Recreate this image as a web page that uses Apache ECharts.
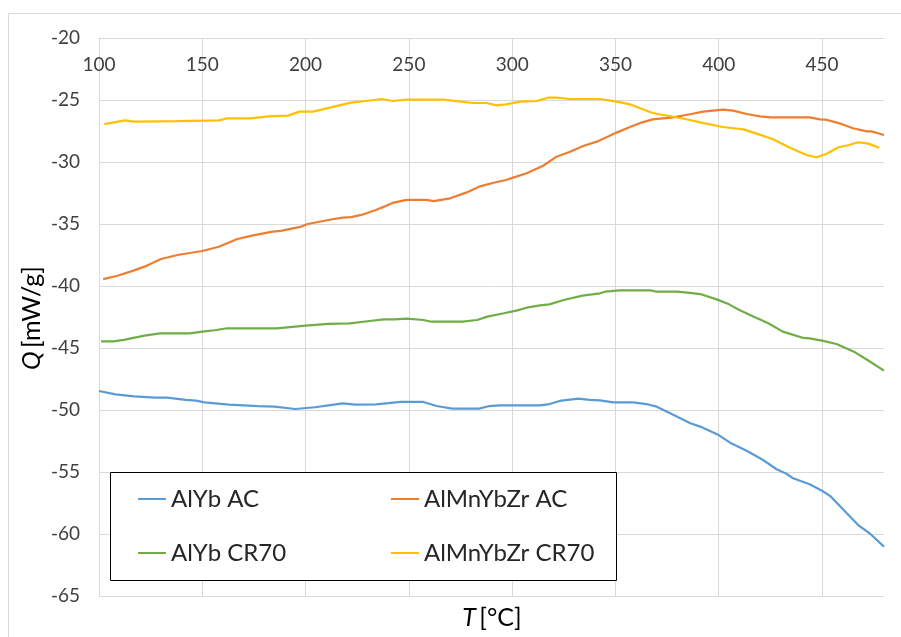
<!DOCTYPE html>
<html>
<head>
<meta charset="utf-8">
<script src="https://cdn.jsdelivr.net/npm/echarts@6/dist/echarts.min.js"></script>
<style>html,body{margin:0;padding:0;background:#fff}#c{width:901px;height:637px}</style>
</head>
<body>
<div id="c"></div>
<script>
var seriesNames = ['AlYb AC', 'AlMnYbZr AC', 'AlYb CR70', 'AlMnYbZr CR70'];
var xTicks = [100, 150, 200, 250, 300, 350, 400, 450];
var yTicks = [-65, -60, -55, -50, -45, -40, -35, -30, -25, -20];

var alybAcT = [100,108,117,127,133,142,147,151,163,177,185,195,204.5,211,218,224,234,240,246,257,263.5,271,284,289,294,313.5,318,323,332,337.6,342.5,349,358.6,365,370,377,386,391,400,406,413.5,421.5,428,433,436,444,450,454,462,468,473,480];
var alybAcQ = [-48.47,-48.74,-48.9,-49.0,-49.0,-49.19,-49.25,-49.38,-49.57,-49.68,-49.73,-49.92,-49.78,-49.62,-49.46,-49.57,-49.54,-49.45,-49.35,-49.35,-49.68,-49.89,-49.89,-49.68,-49.62,-49.62,-49.52,-49.27,-49.09,-49.19,-49.22,-49.38,-49.38,-49.52,-49.73,-50.3,-51.05,-51.34,-52.02,-52.69,-53.28,-54.03,-54.78,-55.16,-55.51,-55.99,-56.51,-56.94,-58.33,-59.35,-59.94,-61.02];

var almnAcT = [102,109,117,122,130,138,150,158,167,174,184,188,198,201,213,218,222,227,234,238,242,249,258.6,262,270,278,284,291,297,300.5,307,315,321.5,328,334.4,341,350.6,357,363,368,378,386,392.5,402,407,413.5,420,425,444,449,452,459,465,471.6,474,480];
var almnAcQ = [-39.44,-39.17,-38.74,-38.44,-37.82,-37.5,-37.18,-36.83,-36.21,-35.94,-35.62,-35.56,-35.21,-35.0,-34.62,-34.49,-34.44,-34.27,-33.87,-33.6,-33.3,-33.06,-33.06,-33.15,-32.93,-32.45,-31.99,-31.67,-31.45,-31.26,-30.91,-30.3,-29.57,-29.17,-28.71,-28.36,-27.63,-27.18,-26.8,-26.56,-26.4,-26.15,-25.94,-25.78,-25.86,-26.13,-26.32,-26.4,-26.4,-26.56,-26.59,-26.91,-27.28,-27.53,-27.53,-27.82];

var alybCrT = [101,107,112,122,129.5,144,150,156,162,186,200,211,221.5,232,238,243,249,257,261,276,283,288,296,302,307,313.5,318,325,334,342.5,345,352,367,370,380,386,391,399,405,410,417,424,431,441,444,450,457,466,472,480];
var alybCrQ = [-44.46,-44.46,-44.35,-44.0,-43.82,-43.82,-43.68,-43.57,-43.41,-43.41,-43.2,-43.06,-43.01,-42.8,-42.69,-42.69,-42.63,-42.74,-42.88,-42.88,-42.74,-42.47,-42.2,-41.99,-41.75,-41.56,-41.48,-41.13,-40.78,-40.59,-40.46,-40.35,-40.35,-40.46,-40.46,-40.56,-40.65,-41.08,-41.48,-41.94,-42.47,-43.01,-43.68,-44.19,-44.22,-44.41,-44.68,-45.35,-45.97,-46.83];

var almnCrT = [102.6,112.6,117,138,158,162,173,182,191.5,197,203.6,222,229,237,242,249,266.6,281,287.6,292.5,297,304,312,317.5,321.5,328,342.5,350.6,357,362,368,378,386,391,402,412,418,426,434.5,442.5,447.4,452,458,463,467.5,472.4,477.7];
var almnCrQ = [-26.94,-26.64,-26.75,-26.7,-26.64,-26.48,-26.48,-26.32,-26.26,-25.94,-25.94,-25.21,-25.08,-24.92,-25.08,-24.97,-24.97,-25.24,-25.24,-25.43,-25.35,-25.13,-25.08,-24.81,-24.81,-24.92,-24.92,-25.13,-25.35,-25.67,-26.05,-26.35,-26.61,-26.8,-27.18,-27.37,-27.69,-28.15,-28.85,-29.44,-29.62,-29.35,-28.81,-28.63,-28.41,-28.52,-28.85];

var colors = ['#5B9BD5', '#ED7D31', '#70AD47', '#FFC000'];

function zip(t, q) { return t.map(function (v, i) { return [v, q[i]]; }); }
var allData = [zip(alybAcT, alybAcQ), zip(almnAcT, almnAcQ), zip(alybCrT, alybCrQ), zip(almnCrT, almnCrQ)];

var FONT = 'Lato';
var chart = echarts.init(document.getElementById('c'), null, { renderer: 'canvas' });

var splitColors = xTicks.map(function () { return '#D9D9D9'; }).concat(['rgba(0,0,0,0)']);

function legendCfg(names, top) {
  return {
    data: names,
    left: 138, top: top, orient: 'horizontal',
    icon: 'rect', itemWidth: 28, itemHeight: 2, itemGap: 30,
    padding: 0, z: 30,
    textStyle: { fontFamily: FONT, fontSize: 24, color: '#262626', width: 190, lineHeight: 34 },
    selectedMode: false
  };
}

chart.setOption({
  animation: false,
  color: colors,
  grid: { left: 99, top: 38, right: 17, bottom: 41 },
  xAxis: {
    type: 'value', min: 100, max: 480, interval: 50, position: 'top',
    axisLine: { show: true, lineStyle: { color: '#D9D9D9', width: 1 } },
    axisTick: { show: false },
    axisLabel: { inside: true, margin: 17, fontFamily: FONT, fontSize: 19, color: '#404040', showMaxLabel: false },
    splitLine: { show: true, lineStyle: { color: splitColors, width: 1 } }
  },
  yAxis: {
    type: 'value', min: -65, max: -20, interval: 5,
    axisLine: { show: true, lineStyle: { color: '#D9D9D9', width: 1 } },
    axisTick: { show: false },
    axisLabel: { margin: 19, fontFamily: FONT, fontSize: 19, color: '#404040' },
    splitLine: { show: true, lineStyle: { color: '#D9D9D9', width: 1 } }
  },
  legend: [
    legendCfg([seriesNames[0], seriesNames[1]], 482),
    legendCfg([seriesNames[2], seriesNames[3]], 536)
  ],
  series: seriesNames.map(function (n, i) {
    return {
      name: n, type: 'line', data: allData[i], symbol: 'none', showSymbol: false,
      lineStyle: { width: 2.2, color: colors[i] }, itemStyle: { color: colors[i] },
      z: 3
    };
  }),
  graphic: [
    { type: 'rect', shape: { x: 8.5, y: 13.5, width: 900, height: 700 }, style: { fill: 'none', stroke: '#D9D9D9', lineWidth: 1 }, silent: true, z: -10 },
    { type: 'rect', shape: { x: 110.5, y: 472.5, width: 506, height: 108 }, style: { fill: '#fff', stroke: '#000', lineWidth: 1 }, silent: true, z: 10 },
    { type: 'text', x: 32, y: 318, rotation: Math.PI / 2,
      style: { text: '{i|Q} {n|[mW/g]}', align: 'center', verticalAlign: 'middle',
        rich: { i: { fontFamily: FONT, fontSize: 25, fontStyle: 'italic', fill: '#000' }, n: { fontFamily: FONT, fontSize: 25, fill: '#000' } } } },
    { type: 'text', x: 492, y: 618,
      style: { text: '{i|T} {n|[°C]}', align: 'center', verticalAlign: 'middle',
        rich: { i: { fontFamily: FONT, fontSize: 25, fontStyle: 'italic', fill: '#000' }, n: { fontFamily: FONT, fontSize: 25, fill: '#000' } } } }
  ]
});
</script>
</body>
</html>
